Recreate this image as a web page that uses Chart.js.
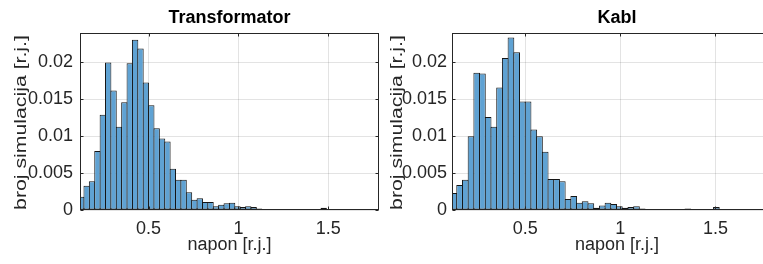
<!DOCTYPE html>
<html>
<head>
<meta charset="utf-8">
<script src="https://cdn.jsdelivr.net/npm/chart.js@4.4.1/dist/chart.umd.min.js"></script>
<style>
  html, body { margin: 0; padding: 0; background: #fff; }
  body { width: 763px; height: 264px; overflow: hidden; position: relative; }
  .panel { position: absolute; top: 0; height: 264px; }
</style>
</head>
<body>
<div class="panel" style="left:0;width:381px"><canvas id="chartTrafo"></canvas></div>
<div class="panel" style="left:376px;width:408px"><canvas id="chartKabl"></canvas></div>
<script>
// bin centres (bin width 0.03)
const binCenters = [
    0.125, 0.155, 0.185, 0.215, 0.245, 0.275, 0.305, 0.335, 0.365, 0.395,
    0.425, 0.455, 0.485, 0.515, 0.545, 0.575, 0.605, 0.635, 0.665, 0.695,
    0.725, 0.755, 0.785, 0.815, 0.845, 0.875, 0.905, 0.935, 0.965, 0.995,
    1.025, 1.055, 1.085, 1.115, 1.145, 1.175, 1.205, 1.235, 1.265, 1.295,
    1.325, 1.355, 1.385, 1.415, 1.445, 1.475, 1.505, 1.535, 1.565, 1.595,
    1.625, 1.655, 1.685, 1.715, 1.745, 1.775
];
const trafoValues = [
    0.0018, 0.0033, 0.0039, 0.0080, 0.0129, 0.0200, 0.0162, 0.0113, 0.0146, 0.0199,
    0.0231, 0.0219, 0.0173, 0.0142, 0.0111, 0.0097, 0.0093, 0.0056, 0.0041, 0.0041,
    0.0024, 0.0014, 0.0016, 0.0011, 0.0011, 0.0005, 0.0007, 0.0009, 0.0010, 0.0005,
    0.0004, 0.0005, 0.0004, 0.0002, 0.0001, 0.00005, 0.0001, 0.00005, 0.00003, 0.00005,
    0.0001, 0.0001, 0.00005, 0.00003, 0.0001, 0.0003, 0.0001, 0.00005, 0.00003, 0.00003,
    0.00005, 0.0001, 0.00005, 0.00003, 0.0001, 0.00005
];
const kablValues = [
    0.0023, 0.0034, 0.0041, 0.0100, 0.0186, 0.0185, 0.0126, 0.0113, 0.0166, 0.0206,
    0.0234, 0.0214, 0.0147, 0.0147, 0.0109, 0.0100, 0.0079, 0.0042, 0.0042, 0.0039,
    0.0015, 0.0019, 0.0010, 0.0012, 0.0009, 0.0003, 0.0006, 0.0010, 0.0008, 0.0005,
    0.0003, 0.0004, 0.0005, 0.0002, 0.0001, 0.00005, 0.00005, 0.00003, 0.00005, 0.00003,
    0.0001, 0.0002, 0.00005, 0.00003, 0.00005, 0.0001, 0.0004, 0.0001, 0.00005, 0.00003,
    0.00005, 0.0001, 0.00003, 0.00005, 0.0001, 0.00005
];
const xTicks = [0.5, 1, 1.5];
const yTicks = [0, 0.005, 0.01, 0.015, 0.02];

const FONT = "'Liberation Sans', Arial, sans-serif";
const AXIS_COLOR = '#262626';
const GRID_COLOR = 'rgba(38,38,38,0.13)';

// MATLAB-like box around the axes with inward tick marks
const axesBox = {
    id: 'axesBox',
    afterDraw(chart) {
        const { ctx, chartArea: a, scales } = chart;
        const l = Math.round(a.left) + 0.5, r = Math.round(a.right) - 0.5;
        const t = Math.round(a.top) + 0.5, b = Math.round(a.bottom) - 0.5;
        ctx.save();
        ctx.strokeStyle = AXIS_COLOR;
        ctx.lineWidth = 1;
        ctx.strokeRect(l, t, r - l, b - t);
        ctx.beginPath();
        xTicks.forEach(v => {
            const x = Math.round(scales.x.getPixelForValue(v)) + 0.5;
            ctx.moveTo(x, b); ctx.lineTo(x, b - 3);
            ctx.moveTo(x, t); ctx.lineTo(x, t + 3);
        });
        yTicks.forEach(v => {
            const y = Math.round(scales.y.getPixelForValue(v)) + 0.5;
            ctx.moveTo(l, y); ctx.lineTo(l + 3, y);
            ctx.moveTo(r, y); ctx.lineTo(r - 3, y);
        });
        ctx.stroke();
        ctx.restore();
    }
};

// y axis label, drawn a bit stretched along the text like in the source figure
const yTitle = {
    id: 'yTitle',
    afterDraw(chart, args, opts) {
        const { ctx, chartArea: a } = chart;
        ctx.save();
        ctx.translate(opts.x, (a.top + a.bottom) / 2 + 1);
        ctx.rotate(-Math.PI / 2);
        ctx.scale(1.25, 1);
        ctx.font = '17px ' + FONT;
        ctx.fillStyle = AXIS_COLOR;
        ctx.textAlign = 'center';
        ctx.textBaseline = 'middle';
        ctx.fillText(opts.text, 0, 0);
        ctx.restore();
    }
};

function makeHistogram(canvasId, title, values, o) {
    const el = document.getElementById(canvasId);
    return new Chart(el, {
        type: 'bar',
        data: {
            datasets: [{
                data: binCenters.map((x, i) => ({ x: x, y: values[i] })),
                backgroundColor: '#5fa2d3',
                borderColor: '#151515',
                borderWidth: 1,
                borderSkipped: false,
                barPercentage: o.barPct,
                categoryPercentage: 1,
                clip: 0
            }]
        },
        options: {
            responsive: true,
            maintainAspectRatio: false,
            animation: false,
            layout: { padding: { left: 0, right: o.rightPad, top: 0, bottom: 0 } },
            plugins: {
                legend: { display: false },
                tooltip: { enabled: false },
                title: {
                    display: true,
                    text: title,
                    fullSize: false,
                    color: '#000',
                    font: { family: FONT, size: 18, weight: 'bold', lineHeight: 1.2 },
                    padding: { top: 7, bottom: 4.4 }
                },
                yTitle: { text: 'broj simulacija [r.j.]', x: 21 }
            },
            scales: {
                x: {
                    type: 'linear',
                    min: o.xMin,
                    max: o.xMax,
                    offset: false,
                    grid: { offset: false, color: GRID_COLOR, drawTicks: false },
                    border: { display: false },
                    afterBuildTicks: s => { s.ticks = xTicks.map(v => ({ value: v })); },
                    afterFit: s => { s.height = 54; },
                    ticks: {
                        color: AXIS_COLOR,
                        font: { family: FONT, size: 18 },
                        padding: 8,
                        maxRotation: 0,
                        autoSkip: false,
                        callback: v => String(v)
                    },
                    title: {
                        display: true,
                        text: 'napon [r.j.]',
                        color: AXIS_COLOR,
                        font: { family: FONT, size: 18, lineHeight: 1.2 },
                        padding: { top: 0, bottom: 8 }
                    }
                },
                y: {
                    min: 0,
                    max: 0.024,
                    grid: { color: GRID_COLOR, drawTicks: false },
                    border: { display: false },
                    afterBuildTicks: s => { s.ticks = yTicks.map(v => ({ value: v })); },
                    afterFit: s => { s.width = o.yWidth; },
                    ticks: {
                        color: AXIS_COLOR,
                        font: { family: FONT, size: 18 },
                        padding: o.tickPad,
                        autoSkip: false,
                        callback: v => String(v)
                    }
                }
            }
        },
        plugins: [axesBox, yTitle]
    });
}

document.addEventListener('DOMContentLoaded', function() {
    makeHistogram('chartTrafo', 'Transformator', trafoValues,
        { xMin: 0.118, xMax: 1.783, yWidth: 80, tickPad: 7, rightPad: 2, barPct: 1.18 });
    makeHistogram('chartKabl', 'Kabl', kablValues,
        { xMin: 0.115, xMax: 1.85, yWidth: 76, tickPad: 5, rightPad: 2, barPct: 1.17 });
});
</script>
</body>
</html>
